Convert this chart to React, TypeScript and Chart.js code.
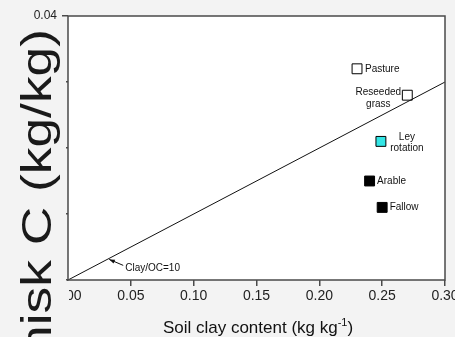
import React, { useEffect, useRef } from 'react';
import { Chart, registerables } from 'chart.js';

Chart.register(...registerables);

// ---- data ----
const landUses = ['Pasture', 'Reseeded\ngrass', 'Ley\nrotation', 'Arable', 'Fallow'];
const clayContent = [0.23, 0.27, 0.249, 0.24, 0.25];
const organicC = [0.032, 0.028, 0.021, 0.015, 0.011];
const refLineClay = [0, 0.3];
const refLineC = [0, 0.03];
const refLineLabel = 'Clay/OC=10';
const refArrowClay = 0.032;
const refArrowC = 0.0032;
const xTickValues = [0, 0.05, 0.1, 0.15, 0.2, 0.25, 0.3];
const yTickValues = [0, 0.01, 0.02, 0.03, 0.04];
const xTitleMain = 'Soil clay content (kg kg';
const xTitleSup = '-1';
const xTitleEnd = ')';
const yTitle = 'nisk C (kg/kg)';

// ---- styles ----
const BG = '#f3f3f3';
const AXIS = '#4a4a4a';
const FONT = '"Liberation Sans", Arial, Helvetica, sans-serif';
const markerFills = ['#ffffff', '#ffffff', '#33e5e5', '#000000', '#000000'];
// label placement relative to marker: [dx, dy of first line, align]
const labelPlacement: [number, number, CanvasTextAlign][] = [
  [8, 0, 'left'],
  [-29, -2.5, 'center'],
  [26, -4.3, 'center'],
  [7.5, 0, 'left'],
  [7.5, 0, 'left'],
];

const decor = {
  id: 'decor',
  beforeDraw(chart: any) {
    const { ctx, chartArea: a, width, height } = chart;
    ctx.save();
    ctx.fillStyle = BG;
    ctx.fillRect(0, 0, width, height);
    ctx.fillStyle = '#ffffff';
    ctx.fillRect(a.left, a.top, a.right - a.left, a.bottom - a.top);
    ctx.restore();
  },
  afterDraw(chart: any) {
    const { ctx, chartArea: a, scales } = chart;
    const xs = scales.x;
    const ys = scales.y;
    ctx.save();
    // frame
    ctx.strokeStyle = AXIS;
    ctx.lineWidth = 1.5;
    ctx.strokeRect(a.left, a.top, a.right - a.left, a.bottom - a.top);

    // point labels
    ctx.fillStyle = '#111';
    ctx.font = `10px ${FONT}`;
    ctx.textBaseline = 'middle';
    landUses.forEach((lab, i) => {
      const px = xs.getPixelForValue(clayContent[i]);
      const py = ys.getPixelForValue(organicC[i]);
      const [dx, dy, align] = labelPlacement[i];
      ctx.textAlign = align;
      lab.split('\n').forEach((line, j) => {
        ctx.fillText(line, px + dx, py + dy + j * 11.6);
      });
    });

    // reference line annotation with arrow
    const tx = xs.getPixelForValue(refArrowClay);
    const ty = ys.getPixelForValue(refArrowC);
    const sx = tx + 15;
    const sy = ty + 6.5;
    ctx.strokeStyle = '#111';
    ctx.lineWidth = 1;
    ctx.beginPath();
    ctx.moveTo(sx, sy);
    ctx.lineTo(tx + 1, ty + 0.5);
    ctx.stroke();
    const ang = Math.atan2(sy - ty, sx - tx);
    ctx.fillStyle = '#111';
    ctx.beginPath();
    ctx.moveTo(tx + 1, ty + 0.5);
    ctx.lineTo(tx + 1 + 6 * Math.cos(ang - 0.35), ty + 0.5 + 6 * Math.sin(ang - 0.35));
    ctx.lineTo(tx + 1 + 6 * Math.cos(ang + 0.35), ty + 0.5 + 6 * Math.sin(ang + 0.35));
    ctx.closePath();
    ctx.fill();
    ctx.textAlign = 'left';
    ctx.textBaseline = 'middle';
    ctx.font = `10px ${FONT}`;
    ctx.fillText(refLineLabel, sx + 2, sy + 2.5);

    // x title with superscript
    ctx.fillStyle = '#111';
    ctx.textBaseline = 'alphabetic';
    ctx.textAlign = 'left';
    const mainFont = `17px ${FONT}`;
    const supFont = `11px ${FONT}`;
    ctx.font = mainFont;
    const w1 = ctx.measureText(xTitleMain).width;
    const w3 = ctx.measureText(xTitleEnd).width;
    ctx.font = supFont;
    const w2 = ctx.measureText(xTitleSup).width;
    const cx = (a.left + a.right) / 2 + 1.5;
    let x0 = cx - (w1 + w2 + w3) / 2;
    const base = 333;
    ctx.font = mainFont;
    ctx.fillText(xTitleMain, x0, base);
    x0 += w1;
    ctx.font = supFont;
    ctx.fillText(xTitleSup, x0, base - 7);
    x0 += w2;
    ctx.font = mainFont;
    ctx.fillText(xTitleEnd, x0, base);

    // cover left band (panel overlap) and big y title
    ctx.fillStyle = BG;
    ctx.fillRect(0, 22, a.left - 2, a.bottom - 22 + 2);
    ctx.fillRect(0, a.bottom + 1, a.left + 1, 337 - a.bottom);
    ctx.fillStyle = '#1a1a1a';
    ctx.translate(51, 29);
    ctx.rotate(-Math.PI / 2);
    ctx.scale(1.27, 1);
    ctx.font = `42px ${FONT}`;
    ctx.textAlign = 'right';
    ctx.textBaseline = 'alphabetic';
    ctx.fillText(yTitle, 0, 0);
    ctx.restore();
  },
};

export default function App() {
  const ref = useRef<HTMLCanvasElement>(null);
  useEffect(() => {
    document.body.style.margin = '0';
    document.body.style.background = BG;
    const canvas = ref.current!;
    const points = clayContent.map((x, i) => ({ x, y: organicC[i] }));
    const linePts = refLineClay.map((x, i) => ({ x, y: refLineC[i] }));
    const chart = new Chart(canvas, {
      type: 'scatter',
      data: {
        datasets: [
          {
            type: 'line',
            label: refLineLabel,
            data: linePts,
            borderColor: '#111',
            borderWidth: 1,
            pointRadius: 0,
            fill: false,
          } as any,
          {
            label: 'Land use',
            data: points,
            pointStyle: 'rect',
            pointRadius: 7,
            pointHoverRadius: 7,
            pointBackgroundColor: markerFills,
            pointBorderColor: '#000',
            pointBorderWidth: 1,
          },
        ],
      },
      options: {
        responsive: false,
        animation: false,
        events: [],
        layout: { padding: { top: 16, right: 10, left: 0, bottom: 0 } },
        plugins: { legend: { display: false }, tooltip: { enabled: false } },
        scales: {
          x: {
            type: 'linear',
            min: 0,
            max: 0.3,
            afterBuildTicks: (s: any) => {
              s.ticks = xTickValues.map((v) => ({ value: v }));
            },
            afterFit: (s: any) => {
              s.height = 57;
              s.paddingLeft = 0;
              s.paddingRight = 0;
            },
            grid: { drawOnChartArea: false, drawTicks: true, tickLength: 6, color: AXIS, lineWidth: 1.5 },
            border: { display: false },
            ticks: {
              autoSkip: false,
              maxRotation: 0,
              padding: 2,
              color: '#222',
              font: { family: FONT, size: 14 },
              callback: (v: any) => Number(v).toFixed(2),
            },
          },
          y: {
            type: 'linear',
            min: 0,
            max: 0.04,
            afterBuildTicks: (s: any) => {
              s.ticks = yTickValues.map((v) => ({ value: v }));
            },
            afterFit: (s: any) => {
              s.width = 68;
              s.paddingTop = 0;
              s.paddingBottom = 0;
            },
            grid: { drawOnChartArea: false, drawTicks: true, tickLength: 6, color: AXIS, lineWidth: 1.5 },
            border: { display: false },
            ticks: {
              autoSkip: false,
              padding: 5,
              color: '#222',
              font: { family: FONT, size: 12 },
              callback: (v: any) => Number(v).toFixed(2),
            },
          },
        },
      },
      plugins: [decor],
    });
    return () => chart.destroy();
  }, []);
  return <canvas ref={ref} width={455} height={337} style={{ display: 'block' }} />;
}
